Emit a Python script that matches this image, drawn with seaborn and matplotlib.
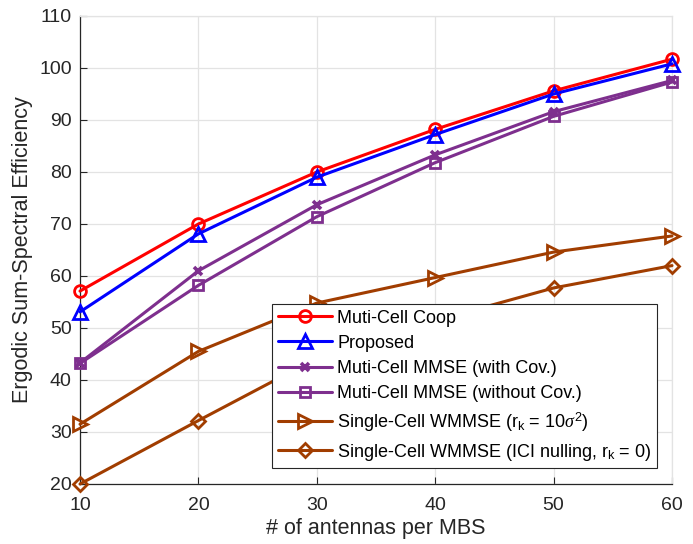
import matplotlib
matplotlib.use("Agg")
import matplotlib.pyplot as plt
import seaborn as sns
import pandas as pd

antennas = [10, 20, 30, 40, 50, 60]
coop = [57.1, 70.0, 80.0, 88.2, 95.6, 101.7]
proposed = [53.1, 68.1, 79.0, 87.2, 95.0, 100.8]
mmse_cov = [43.3, 61.0, 73.7, 83.3, 91.6, 97.6]
mmse_nocov = [43.2, 58.2, 71.4, 81.8, 90.7, 97.3]
sc_wmmse = [31.5, 45.5, 54.8, 59.7, 64.6, 67.7]
sc_nulling = [20.0, 32.2, 44.2, 51.4, 57.7, 62.0]

labels = ["Muti-Cell Coop", "Proposed", "Muti-Cell MMSE (with Cov.)",
          "Muti-Cell MMSE (without Cov.)",
          r"Single-Cell WMMSE (r$_\mathregular{k}$ = 10$\sigma^\mathregular{2}$)",
          r"Single-Cell WMMSE (ICI nulling, r$_\mathregular{k}$ = 0)"]
series = [coop, proposed, mmse_cov, mmse_nocov, sc_wmmse, sc_nulling]
colors = ["#FF0000", "#0000FF", "#7E2F8E", "#7E2F8E", "#A13D00", "#A13D00"]
markers = ["o", "^", "x", "s", ">", "D"]
msizes = [8.5, 9.5, 5.5, 6.5, 9.5, 7]

sns.set_theme(style="whitegrid")
plt.rcParams["font.family"] = ["Liberation Sans", "DejaVu Sans"]
plt.rcParams["mathtext.fontset"] = "custom"
plt.rcParams["mathtext.rm"] = "Liberation Sans"
plt.rcParams["mathtext.it"] = "Liberation Serif:italic"

fig = plt.figure(figsize=(6.93, 5.44), dpi=100)
ax = fig.add_axes([80 / 693, 1 - 484 / 544, 592 / 693, 468 / 544])

for lab, vals, c, m, ms in zip(labels, series, colors, markers, msizes):
    df = pd.DataFrame({"x": antennas, "y": vals})
    sns.lineplot(data=df, x="x", y="y", ax=ax, color=c, marker=m, markersize=ms,
                 markerfacecolor="none", markeredgecolor=c,
                 markeredgewidth=2.6 if m == "x" else 2,
                 linewidth=2.2, label=lab, clip_on=False, zorder=3)

ax.set_xlim(10, 60)
ax.set_ylim(20, 110)
ax.set_xticks(antennas)
ax.set_yticks(range(20, 111, 10))
ax.grid(True, color="#E3E3E3", linewidth=0.9)
ax.set_axisbelow(True)
for s in ["left", "bottom"]:
    ax.spines[s].set_color("#262626")
    ax.spines[s].set_linewidth(0.9)
for s in ["top", "right"]:
    ax.spines[s].set_color("#E3E3E3")
    ax.spines[s].set_linewidth(0.9)
ax.tick_params(axis="both", direction="in", length=5, width=0.8, colors="#262626",
               labelsize=14, left=True, bottom=True)
ax.tick_params(axis="x", pad=9)
ax.tick_params(axis="y", pad=6)
ax.set_xlabel("# of antennas per MBS", fontsize=15.5, color="#262626", labelpad=3)
ax.set_ylabel("Ergodic Sum-Spectral Efficiency", fontsize=15.5, color="#262626", labelpad=4)

leg = ax.legend(loc="lower right", bbox_to_anchor=(0.975, 0.034), fontsize=13,
                frameon=True, fancybox=False, edgecolor="#262626", framealpha=1,
                borderpad=0.3, labelspacing=0.45, handlelength=3.0, handletextpad=0.3,
                borderaxespad=0)
leg.get_frame().set_linewidth(0.8)
for t in leg.get_texts():
    t.set_color("black")

fig.savefig("out.png", dpi=100)
